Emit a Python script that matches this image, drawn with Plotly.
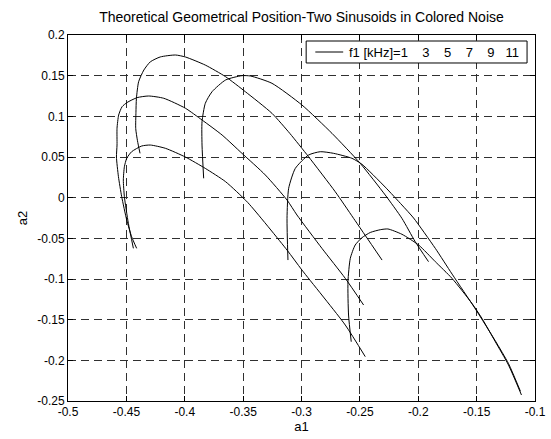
import plotly.graph_objects as go

title_text = "Theoretical Geometrical Position-Two Sinusoids in Colored Noise"
NB = "\u00a0"
legend_text = ("f1 [kHz]=1" + NB * 4 + "3" + NB * 4 + "5" + NB * 4 + "7" + NB * 4 + "9" + NB * 3 + "11")

x_ticks = [-0.5, -0.45, -0.4, -0.35, -0.3, -0.25, -0.2, -0.15, -0.1]
x_labels = ["-0.5", "-0.45", "-0.4", "-0.35", "-0.3", "-0.25", "-0.2", "-0.15", "-0.1"]
y_ticks = [-0.25, -0.2, -0.15, -0.1, -0.05, 0, 0.05, 0.1, 0.15, 0.2]
y_labels = ["-0.25", "-0.2", "-0.15", "-0.1", "-0.05", "0", "0.05", "0.1", "0.15", "0.2"]

# curve f1 = 1 kHz
a1_f1 = [-0.4412, -0.4455, -0.4497, -0.4540, -0.4568, -0.4585, -0.4580, -0.4580, -0.4566, -0.4537,
         -0.4494, -0.4408, -0.4310, -0.4180, -0.3995, -0.3852, -0.3680, -0.3510, -0.3310, -0.3124,
         -0.3039, -0.2825, -0.2625, -0.2468]
a2_f1 = [-0.0623, -0.0480, -0.0275, 0.0012, 0.0258, 0.0500, 0.0647, 0.0853, 0.1016, 0.1118,
         0.1170, 0.1230, 0.1250, 0.1222, 0.1100, 0.0955, 0.0770, 0.0545, 0.0279, -0.0029,
         -0.0213, -0.0623, -0.0992, -0.1320]

# curve f1 = 3 kHz
a1_f3 = [-0.4440, -0.4483, -0.4517, -0.4526, -0.4517, -0.4497, -0.4455, -0.4369, -0.4295, -0.4166,
         -0.3995, -0.3824, -0.3650, -0.3460, -0.3124, -0.2996, -0.2625, -0.2454]
a2_f3 = [-0.0623, -0.0315, 0.0012, 0.0217, 0.0380, 0.0484, 0.0565, 0.0635, 0.0647, 0.0607,
         0.0500, 0.0360, 0.0196, -0.0060, -0.0644, -0.0890, -0.1566, -0.1955]

# curve f1 = 5 kHz
a1_f5 = [-0.4383, -0.4405, -0.4420, -0.4418, -0.4414, -0.4395, -0.4350, -0.4295, -0.4210, -0.4080,
         -0.3995, -0.3824, -0.3650, -0.3481, -0.3253, -0.3100, -0.2940, -0.2711, -0.2554, -0.2310]
a2_f5 = [0.0545, 0.0700, 0.0850, 0.1050, 0.1220, 0.1426, 0.1570, 0.1670, 0.1730, 0.1754,
         0.1730, 0.1630, 0.1487, 0.1303, 0.1037, 0.0790, 0.0504, 0.0073, -0.0254, -0.0767]

# curve f1 = 7 kHz
a1_f7 = [-0.3838, -0.3852, -0.3852, -0.3824, -0.3766, -0.3650, -0.3510, -0.3438, -0.3253, -0.2996,
         -0.2739, -0.2497, -0.2283, -0.2140, -0.2026, -0.1912]
a2_f7 = [0.0238, 0.0647, 0.0934, 0.1160, 0.1303, 0.1447, 0.1500, 0.1496, 0.1406, 0.1139,
         0.0791, 0.0422, 0.0033, -0.0254, -0.0541, -0.0787]

# curve f1 = 9 kHz
a1_f9 = [-0.3116, -0.3124, -0.3110, -0.3053, -0.2940, -0.2839, -0.2725, -0.2568, -0.2482, -0.2283,
         -0.2140, -0.2040, -0.1854, -0.1710, -0.1510, -0.1340, -0.1227, -0.1125]
a2_f9 = [-0.0767, -0.0254, 0.0115, 0.0360, 0.0524, 0.0565, 0.0545, 0.0484, 0.0410, 0.0130,
         -0.0090, -0.0250, -0.0623, -0.0940, -0.1370, -0.1760, -0.2040, -0.2380]

# curve f1 = 11 kHz
a1_f11 = [-0.2574, -0.2597, -0.2602, -0.2582, -0.2540, -0.2482, -0.2411, -0.2325, -0.2260, -0.2140,
          -0.1997, -0.1854, -0.1711, -0.1540, -0.1455, -0.1340, -0.1227, -0.1116]
a2_f11 = [-0.1771, -0.1443, -0.1033, -0.0746, -0.0582, -0.0492, -0.0428, -0.0394, -0.0385, -0.0450,
          -0.0582, -0.0787, -0.0992, -0.1300, -0.1483, -0.1771, -0.2058, -0.2426]

curves = [(a1_f1, a2_f1), (a1_f3, a2_f3), (a1_f5, a2_f5),
          (a1_f7, a2_f7), (a1_f9, a2_f9), (a1_f11, a2_f11)]

FONT = "Liberation Sans, Arial, Helvetica, sans-serif"

fig = go.Figure()
for i, (xs, ys) in enumerate(curves):
    fig.add_trace(go.Scatter(
        x=xs, y=ys, mode="lines",
        line=dict(color="black", width=1, shape="spline", smoothing=0.6),
        name=legend_text, showlegend=False,
    ))

axis_common = dict(
    showline=True, linecolor="black", linewidth=1, mirror="allticks",
    ticks="inside", ticklen=5, tickcolor="black", tickwidth=1,
    showgrid=True, gridcolor="#303030", gridwidth=1, griddash="8px,5px",
    zeroline=False, tickfont=dict(family=FONT, size=12, color="black"),
)

fig.update_xaxes(range=[-0.5, -0.1], tickvals=x_ticks, ticktext=x_labels,
                 title=dict(text="a1", font=dict(family=FONT, size=13, color="black"), standoff=2),
                 **axis_common)
fig.update_yaxes(range=[-0.25, 0.2], tickvals=y_ticks, ticktext=y_labels,
                 title=dict(text="a2", font=dict(family=FONT, size=13, color="black"), standoff=6),
                 **axis_common)

# legend box drawn in paper coordinates (MATLAB-style)
lx0, lx1, ly0, ly1 = 0.510, 0.983, 0.9235, 0.9836
ly_mid = (ly0 + ly1) / 2
fig.add_shape(type="rect", xref="paper", yref="paper", x0=lx0, x1=lx1, y0=ly0, y1=ly1,
              line=dict(color="black", width=1), fillcolor="white", layer="above")
fig.add_shape(type="line", xref="paper", yref="paper", x0=0.5296, x1=0.5893, y0=ly_mid, y1=ly_mid,
              line=dict(color="black", width=1), layer="above")
fig.add_annotation(xref="paper", yref="paper", x=0.5979, y=ly_mid, xanchor="left", yanchor="middle",
                   text=legend_text, showarrow=False,
                   font=dict(family=FONT, size=13, color="black"))

fig.update_layout(
    width=551, height=439,
    margin=dict(l=68, r=16, t=35, b=38, autoexpand=False),
    paper_bgcolor="white", plot_bgcolor="white",
    font=dict(family=FONT, color="black"),
    title=dict(text=title_text, x=0.5, xref="paper", xanchor="center",
               y=1 - 17 / 439, yref="container", yanchor="middle",
               font=dict(family=FONT, size=14, color="black")),
    showlegend=False,
)

fig.write_html("out.html")
